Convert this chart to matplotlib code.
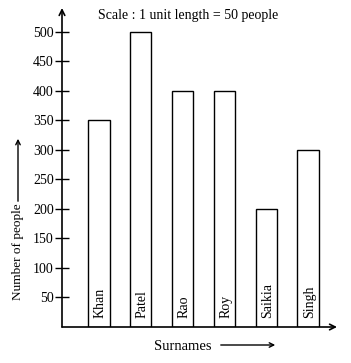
import matplotlib
matplotlib.use("Agg")
import matplotlib.pyplot as plt

surnames = ["Khan", "Patel", "Rao", "Roy", "Saikia", "Singh"]
people = [350, 500, 400, 400, 200, 300]
yticks = [50, 100, 150, 200, 250, 300, 350, 400, 450, 500]

plt.rcParams['font.family'] = ['Liberation Serif', 'DejaVu Serif']

W, H = 351, 363
fig = plt.figure(figsize=(W / 100, H / 100), dpi=100)
ax = fig.add_axes([62 / W, 36 / H, 275 / W, 319 / H])
ax.set_xlim(0, 275 / 41)
ax.set_ylim(0, 540)

xs = [0.9 + i * 1.02 for i in range(len(surnames))]
ax.bar(xs, people, width=0.52, facecolor='white', edgecolor='black', linewidth=1.0)
for x, name in zip(xs, surnames):
    ax.text(x + 0.03, 15, name, rotation=90, ha='center', va='bottom', fontsize=10)

for s in ax.spines.values():
    s.set_visible(False)
ax.set_xticks([])
ax.set_yticks(yticks)
ax.tick_params(axis='y', direction='inout', length=10, width=1, labelsize=10, pad=1)

# axes with arrows
ax.annotate('', xy=(0, 540), xytext=(0, 0),
            arrowprops=dict(arrowstyle='->', lw=1.2, color='black', shrinkA=0, shrinkB=0))
ax.annotate('', xy=(275 / 41, 0), xytext=(0, 0),
            arrowprops=dict(arrowstyle='->', lw=1.2, color='black', shrinkA=0, shrinkB=0))

fig.text(188 / W, 1 - 15 / H, 'Scale : 1 unit length = 50 people', ha='center', va='center', fontsize=10)

# y label with arrow
fig.text(18 / W, 1 - 252 / H, 'Number of people', rotation=90, ha='center', va='center', fontsize=9.5)
fig.add_artist(matplotlib.patches.FancyArrowPatch((18, H - 204), (18, H - 136),
               transform=None, arrowstyle='->', mutation_scale=8, lw=1, color='black'))

# x label with arrow
fig.text(183 / W, 1 - 346 / H, 'Surnames', ha='center', va='center', fontsize=10.5)
fig.add_artist(matplotlib.patches.FancyArrowPatch((218, H - 345), (278, H - 345),
               transform=None, arrowstyle='->', mutation_scale=8, lw=1, color='black'))

fig.savefig('out.png', dpi=100)
